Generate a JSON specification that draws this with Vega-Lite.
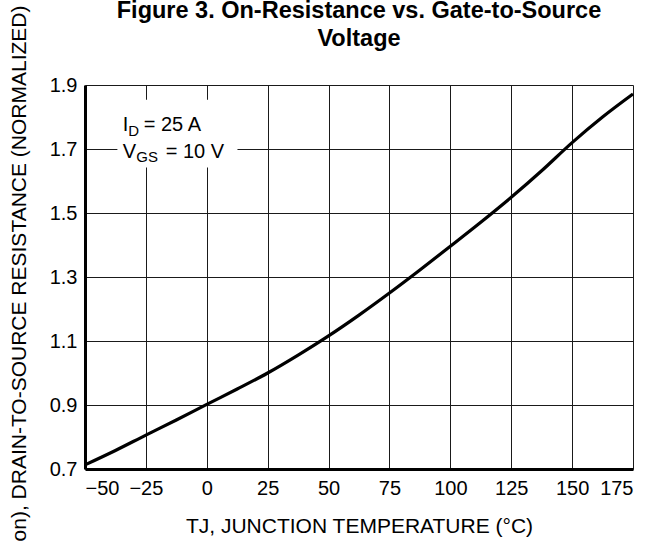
{
  "$schema": "https://vega.github.io/schema/vega-lite/v6.json",
  "autosize": {"type": "none"},
  "padding": {"left": 85, "top": 85, "right": 19, "bottom": 72},
  "width": 548,
  "height": 384,
  "background": "white",
  "config": {
    "font": "Liberation Sans",
    "view": {"stroke": null},
    "axis": {
      "gridColor": "#1a1a1a",
      "gridWidth": 1,
      "gridOpacity": 1,
      "domainColor": "#000000",
      "domainWidth": 3,
      "ticks": false,
      "tickSize": 0,
      "labelFont": "Liberation Sans",
      "labelFontSize": 20,
      "labelColor": "#000000",
      "titleFont": "Liberation Sans",
      "titleFontSize": 21,
      "titleFontWeight": "normal",
      "titleColor": "#000000"
    }
  },
  "title": {
    "text": ["Figure 3. On-Resistance vs. Gate-to-Source", "Voltage"],
    "font": "Liberation Sans",
    "fontSize": 23.5,
    "fontWeight": "bold",
    "lineHeight": 28,
    "color": "#000000",
    "anchor": "middle",
    "baseline": "bottom",
    "offset": 0,
    "dy": 69
  },
  "data": {
    "values": [
      {"temp": -50, "r": 0.713},
      {"temp": -37.5, "r": 0.758},
      {"temp": -25, "r": 0.806},
      {"temp": -12.5, "r": 0.853},
      {"temp": 0, "r": 0.902},
      {"temp": 12.5, "r": 0.95},
      {"temp": 25, "r": 1.0},
      {"temp": 37.5, "r": 1.056},
      {"temp": 50, "r": 1.116},
      {"temp": 62.5, "r": 1.181},
      {"temp": 75, "r": 1.25},
      {"temp": 87.5, "r": 1.322},
      {"temp": 100, "r": 1.396},
      {"temp": 112.5, "r": 1.471},
      {"temp": 125, "r": 1.549},
      {"temp": 137.5, "r": 1.632},
      {"temp": 150, "r": 1.72},
      {"temp": 162.5, "r": 1.8},
      {"temp": 175, "r": 1.872}
    ]
  },
  "layer": [
    {
      "mark": {"type": "line", "color": "#000000", "strokeWidth": 3.2, "interpolate": "monotone"},
      "encoding": {
        "x": {
          "field": "temp", "type": "quantitative",
          "scale": {"domain": [-50, 175], "nice": false, "zero": false},
          "axis": {
            "values": [-50, -25, 0, 25, 50, 75, 100, 125, 150, 175],
            "format": "d",
            "labelPadding": 9,
            "title": "TJ, JUNCTION TEMPERATURE (°C)",
            "titleBaseline": "alphabetic",
            "titleY": 63
          }
        },
        "y": {
          "field": "r", "type": "quantitative",
          "scale": {"domain": [0.7, 1.9], "nice": false, "zero": false},
          "axis": {
            "values": [0.7, 0.8, 0.9, 1.0, 1.1, 1.2, 1.3, 1.4, 1.5, 1.6, 1.7, 1.8, 1.9],
            "labelExpr": "round(datum.value*10) % 2 == 1 ? format(datum.value, '.1f') : ''",
            "labelPadding": 8,
            "title": "RDS(on), DRAIN-TO-SOURCE RESISTANCE (NORMALIZED)",
            "titleAngle": -90,
            "titleAlign": "right",
            "titleBaseline": "alphabetic",
            "titleX": -60,
            "titleY": -80
          }
        }
      }
    },
    {
      "data": {"values": [{}]},
      "mark": {"type": "rect", "color": "white"},
      "encoding": {
        "x": {"datum": -36.7},
        "x2": {"datum": 12.6},
        "y": {"datum": 1.854},
        "y2": {"datum": 1.642}
      }
    },
    {
      "data": {"values": [{}]},
      "mark": {"type": "text", "text": "I", "align": "left", "baseline": "alphabetic", "fontSize": 20, "color": "#000000"},
      "encoding": {"x": {"datum": -34.5}, "y": {"datum": 1.757}}
    },
    {
      "data": {"values": [{}]},
      "mark": {"type": "text", "text": "D", "align": "left", "baseline": "alphabetic", "fontSize": 15, "color": "#000000", "dx": 5.5, "dy": 5},
      "encoding": {"x": {"datum": -34.5}, "y": {"datum": 1.757}}
    },
    {
      "data": {"values": [{}]},
      "mark": {"type": "text", "text": "= 25 A", "align": "left", "baseline": "alphabetic", "fontSize": 20, "color": "#000000", "dx": 21},
      "encoding": {"x": {"datum": -34.5}, "y": {"datum": 1.757}}
    },
    {
      "data": {"values": [{}]},
      "mark": {"type": "text", "text": "V", "align": "left", "baseline": "alphabetic", "fontSize": 20, "color": "#000000"},
      "encoding": {"x": {"datum": -34.5}, "y": {"datum": 1.672}}
    },
    {
      "data": {"values": [{}]},
      "mark": {"type": "text", "text": "GS", "align": "left", "baseline": "alphabetic", "fontSize": 15, "color": "#000000", "dx": 13.5, "dy": 4},
      "encoding": {"x": {"datum": -34.5}, "y": {"datum": 1.672}}
    },
    {
      "data": {"values": [{}]},
      "mark": {"type": "text", "text": "= 10 V", "align": "left", "baseline": "alphabetic", "fontSize": 20, "color": "#000000", "dx": 43},
      "encoding": {"x": {"datum": -34.5}, "y": {"datum": 1.672}}
    }
  ]
}
